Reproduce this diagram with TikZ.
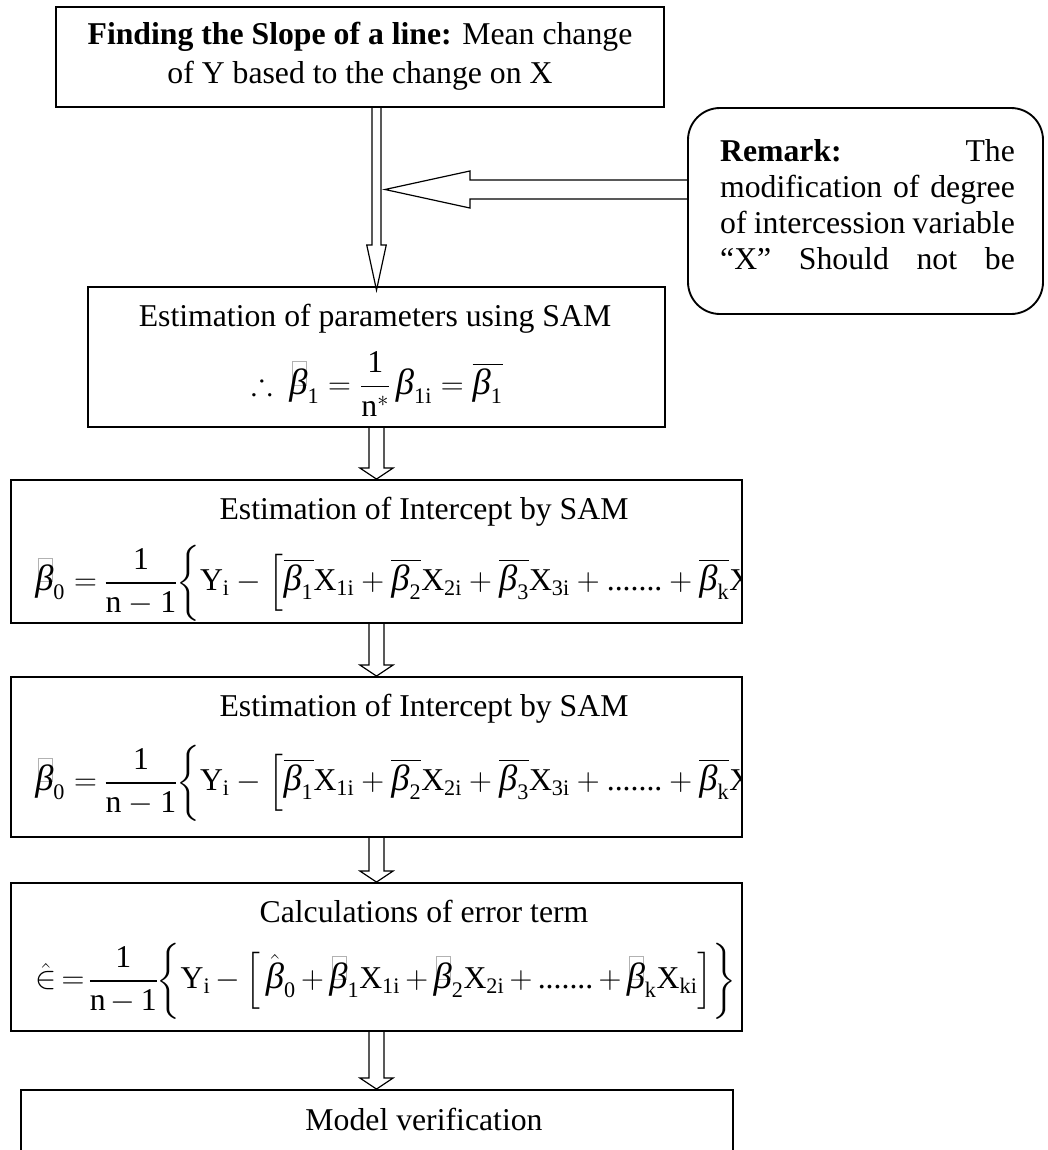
\RequirePackage{fix-cm}
\documentclass[tikz,border=0pt]{standalone}
\usepackage{amsmath,amssymb}
\usepackage{fontspec}
\setmainfont{Liberation Serif}
\usetikzlibrary{calc,fit}

\newcommand{\fs}{\fontsize{23.8pt}{27pt}\selectfont}
\newcommand{\tight}{\thickmuskip=3mu plus 2mu\medmuskip=3mu plus 1mu\nulldelimiterspace=0pt}
\newcommand{\bt}{\text{\itshape\fontsize{27.4pt}{28pt}\selectfont β}}
\newcommand{\tr}[1]{\text{\upshape #1}}
\newcommand{\gbx}{\makebox[0pt][l]{\hspace{2pt}\raisebox{0.3em}{\color{gray!60}\setlength{\fboxsep}{0pt}\setlength{\fboxrule}{0.5pt}\fbox{\rule{0pt}{0.72em}\hspace{0.42em}}}}}
\newcommand{\ob}[1]{\overline{\bt_{\tr{#1}}}}
% block arrow: start, end, shaft half width, head half width, head length
\newcommand{\varrow}[5]{%
  \draw[arrline] let \p1=(#1), \p2=(#2) in
    (\x1-#3,\y1) -- (\x1-#3,\y2+#5) -- (\x1-#4,\y2+#5) -- (\x1,\y2)
    -- (\x1+#4,\y2+#5) -- (\x1+#3,\y2+#5) -- (\x1+#3,\y1);}

\begin{document}
\begin{tikzpicture}[x=0.75pt,y=-0.75pt,
  box/.style={draw, line width=1.4pt, inner sep=0pt},
  arrline/.style={draw, line width=0.9pt, line join=miter},
  txt/.style={font=\fs, inner sep=0pt}]
\useasboundingbox (0,0) rectangle (1047,1150);
\clip (0,0) rectangle (1047,1150);
\fill[white] (0,0) rectangle (1047,1150);

% boxes
\node[box, fit={(56,7) (664,107)}] (b1) {};
\node[box, rounded corners=24pt, fit={(688,108) (1043,314)}] (rem) {};
\node[box, fit={(88,287) (665,427)}] (b2) {};
\node[box, fit={(11,480) (742,623)}] (b3) {};
\node[box, fit={(11,677) (742,837)}] (b4) {};
\node[box, fit={(11,883) (742,1031)}] (b5) {};
\node[box, fit={(21,1090) (733,1180)}] (b6) {};

% texts
\node[txt, align=center, font=\fontsize{23.8pt}{29pt}\selectfont] (t1) at (360,56)
  {\textbf{Finding the Slope of a line:} Mean change\\ of Y based to the change on X};
\node[txt, text width=221pt, align=left] (trem) at (867.5,205)
  {\textbf{Remark:}\hfill The\\
   modification\hfill of\hfill degree\\
   of\hfill intercession\hfill variable\\
   “X”\hfill Should\hfill not\hfill be};

\node[txt, anchor=base] (t2) at (375,326) {Estimation of parameters using SAM};
\node[txt] (f2) at (377,384)
  {\(\therefore\ \gbx\bt_{\tr{1}} = \dfrac{\tr{1}}{\tr{n}^{*}}\,\bt_{\tr{1i}} = \ob{1}\)};

\node[txt, anchor=base] (t3) at (424,519) {Estimation of Intercept by SAM};
\begin{scope}
\clip (b3.north west) rectangle (b3.south east);
\node[txt, anchor=west] (f3) at (35,583)
  {\nulldelimiterspace=0pt\(\gbx\bt_{\tr{0}} = \dfrac{\tr{1}}{\tr{n}-\tr{1}}\biggl\{\tr{Y}_{\tr{i}} - \Bigl[\ob{1}\tr{X}_{\tr{1i}} + \ob{2}\tr{X}_{\tr{2i}} + \ob{3}\tr{X}_{\tr{3i}} + \tr{.......} + \ob{k}\tr{X}_{\tr{ki}}\Bigr]\biggr\}\)};
\end{scope}

\node[txt, anchor=base] (t4) at (424,716) {Estimation of Intercept by SAM};
\begin{scope}
\clip (b4.north west) rectangle (b4.south east);
\node[txt, anchor=west] (f4) at (35,783)
  {\nulldelimiterspace=0pt\(\gbx\bt_{\tr{0}} = \dfrac{\tr{1}}{\tr{n}-\tr{1}}\biggl\{\tr{Y}_{\tr{i}} - \Bigl[\ob{1}\tr{X}_{\tr{1i}} + \ob{2}\tr{X}_{\tr{2i}} + \ob{3}\tr{X}_{\tr{3i}} + \tr{.......} + \ob{k}\tr{X}_{\tr{ki}}\Bigr]\biggr\}\)};
\end{scope}

\node[txt, anchor=base] (t5) at (424,922) {Calculations of error term};
\node[txt, anchor=west] (f5) at (35,981)
  {\tight\(\hat{\in} = \dfrac{\tr{1}}{\tr{n}-\tr{1}}\biggl\{\tr{Y}_{\tr{i}} - \Bigl[\,\hat{\bt}_{\tr{0}} + \gbx\bt_{\tr{1}}\tr{X}_{\tr{1i}} + \gbx\bt_{\tr{2}}\tr{X}_{\tr{2i}} + \tr{.......} + \gbx\bt_{\tr{k}}\tr{X}_{\tr{ki}}\Bigr]\biggr\}\)};

\node[txt, anchor=base] (t6) at (424,1130) {Model verification};

% arrows
\coordinate (ax) at (376.5,0);
\coordinate (hy) at (0,189.5);
\coordinate (tipR) at (385,189.5);
\varrow{b1.south -| ax}{$(b2.north -| ax)+(0,4)$}{3.4pt}{7.3pt}{33.75pt}
\varrow{b2.south -| ax}{b3.north -| ax}{5.6pt}{12.4pt}{8.25pt}
\varrow{b3.south -| ax}{b4.north -| ax}{5.6pt}{12.4pt}{8.25pt}
\varrow{b4.south -| ax}{b5.north -| ax}{5.6pt}{12.4pt}{8.25pt}
\varrow{b5.south -| ax}{b6.north -| ax}{5.6pt}{12.4pt}{8.25pt}
\draw[arrline] let \p1=(rem.west |- hy), \p2=(tipR) in
  (\x1,\y1+7.1pt) -- (\x2+63.75pt,\y1+7.1pt) -- (\x2+63.75pt,\y1+13.9pt) -- (\x2,\y1)
  -- (\x2+63.75pt,\y1-13.9pt) -- (\x2+63.75pt,\y1-7.1pt) -- (\x1,\y1-7.1pt);
\end{tikzpicture}
\end{document}
